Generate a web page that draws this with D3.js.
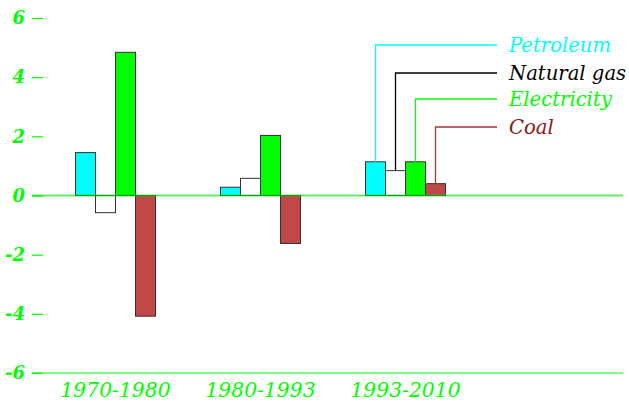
<!DOCTYPE html>
<html><head><meta charset="utf-8">
<script src="https://cdn.jsdelivr.net/npm/d3@7"></script>
<style>body{margin:0;background:#fff}svg{display:block}</style>
</head><body>
<svg id="c" width="629" height="402"></svg>
<script>
const categories = ["1970-1980", "1980-1993", "1993-2010"];
const seriesNames = ["Petroleum", "Natural gas", "Electricity", "Coal"];
const petroleum = [1.45, 0.28, 1.14];
const naturalGas = [-0.58, 0.58, 0.84];
const electricity = [4.84, 2.03, 1.14];
const coal = [-4.08, -1.62, 0.40];
const yTicks = [-6, -4, -2, 0, 2, 4, 6];

const fills = ["#00ffff", "#ffffff", "#00ff00", "#c04848"];
const textColors = ["#00ffff", "#000000", "#00ff00", "#8b1a1a"];
const leaderColors = ["#00ffff", "#000000", "#00ff00", "#a03838"];
const values = [petroleum, naturalGas, electricity, coal];

const svg = d3.select("#c");
const font = "'DejaVu Serif', serif";

const y = d3.scaleLinear().domain([-6, 6]).range([373, 18]);
const x = d3.scaleBand().domain(categories).range([43, 478]).paddingInner(0.4483).paddingOuter(0.2241);
const xs = d3.scaleBand().domain(seriesNames).range([0, x.bandwidth()]);

// y axis
const yAxis = d3.axisLeft(y).tickValues(yTicks).tickSize(11).tickPadding(7).tickFormat(d => String(d));
const ya = svg.append("g").attr("transform", "translate(43,0)").call(yAxis);
ya.select(".domain").remove();
ya.selectAll(".tick line").attr("stroke", "#00ff00").attr("stroke-width", 1.2);
ya.selectAll(".tick text").attr("fill", "#00ff00").attr("font-family", font)
  .attr("font-style", "italic").attr("font-weight", "bold").attr("font-size", 18);

// bottom line at -6
svg.append("line").attr("x1", 32).attr("x2", 623).attr("y1", y(-6)).attr("y2", y(-6))
  .attr("stroke", "#00ff00").attr("stroke-width", 1.2);

// bars
seriesNames.forEach((s, si) => {
  svg.append("g").selectAll("rect").data(values[si]).join("rect")
    .attr("x", (d, i) => x(categories[i]) + xs(s))
    .attr("width", xs.bandwidth())
    .attr("y", d => y(Math.max(0, d)))
    .attr("height", d => Math.abs(y(d) - y(0)))
    .attr("fill", fills[si]).attr("stroke", "#333").attr("stroke-width", 1);
});

// zero line
svg.append("line").attr("x1", 32).attr("x2", 623).attr("y1", y(0)).attr("y2", y(0))
  .attr("stroke", "#00dd00").attr("stroke-opacity", 0.6).attr("stroke-width", 2);

// x category labels
const xa = d3.axisBottom(x).tickSize(0).tickPadding(0);
const xg = svg.append("g").attr("transform", "translate(0,379)").call(xa);
xg.select(".domain").remove();
xg.selectAll(".tick text").attr("fill", "#00ff00").attr("font-family", font)
  .attr("font-style", "italic").attr("font-size", 20.3).attr("dy", "0.9em");

// legend with leader lines (attached to last group)
const last = categories.length - 1;
const legendY = [45, 73, 99, 127];
seriesNames.forEach((s, si) => {
  const cx = x(categories[last]) + xs(s) + xs.bandwidth() / 2;
  const top = y(Math.max(0, values[si][last]));
  svg.append("path")
    .attr("d", `M${cx},${top}V${legendY[si]}H497`)
    .attr("fill", "none").attr("stroke", leaderColors[si]).attr("stroke-width", 1.3);
  svg.append("text").attr("x", 509).attr("y", legendY[si]).attr("dy", "0.35em")
    .attr("fill", textColors[si]).attr("font-family", font).attr("font-style", "italic")
    .attr("font-size", 19.6).text(s);
});
</script>
</body></html>
